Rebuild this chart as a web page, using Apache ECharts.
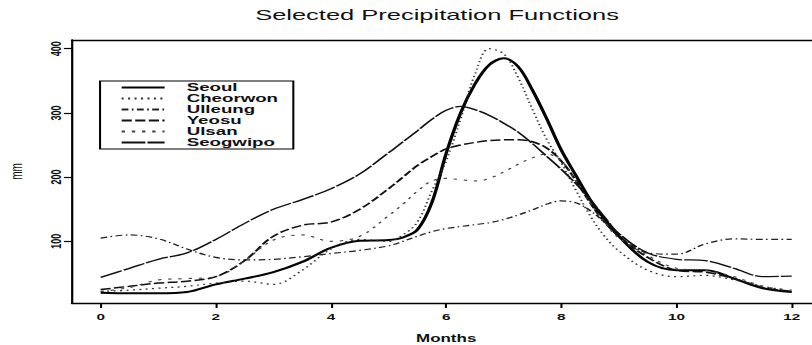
<!DOCTYPE html>
<html>
<head>
<meta charset="utf-8">
<script src="https://cdn.jsdelivr.net/npm/echarts@6/dist/echarts.min.js"></script>
<style>
  html, body { margin: 0; padding: 0; background: #fff; overflow: hidden; }
  #wrap { width: 812px; height: 345px; overflow: hidden; position: relative; }
  /* the figure is laid out narrow and widened horizontally as a whole */
  #chart { width: 478px; height: 345px; transform: scaleX(1.69874); transform-origin: 0 0; }
</style>
</head>
<body>
<div id="wrap"><div id="chart"></div></div>
<script>
// Monthly precipitation curves (mm) for six stations
const months = [0, 0.5, 1, 1.5, 2, 2.5, 3, 3.5, 4, 4.5, 5, 5.25, 5.5, 5.75, 6, 6.25, 6.5, 6.75, 7, 7.25, 7.5, 7.75, 8, 8.25, 8.5, 8.75, 9, 9.5, 10, 10.5, 11, 11.5, 12];

const seoul    = [20, 19, 19, 21, 33, 42, 52, 68, 90, 101, 102, 106, 118, 160, 237, 300, 345, 375, 385, 372, 335, 290, 242, 203, 165, 135, 108, 68, 55, 55, 42, 27, 21];
const cheorwon = [22, 24, 27, 30, 35, 38, 33, 55, 88, 103, 100, 110, 130, 178, 225, 290, 360, 400, 392, 355, 305, 258, 222, 180, 140, 108, 85, 55, 45, 47, 40, 30, 22];
const ulleung  = [105, 110, 104, 88, 75, 71, 72, 76, 81, 86, 93, 100, 108, 115, 120, 123, 126, 129, 134, 141, 149, 158, 163, 160, 148, 130, 112, 82, 80, 96, 104, 103, 103];
const yeosu    = [25, 30, 35, 38, 45, 70, 108, 125, 130, 150, 182, 200, 218, 232, 244, 250, 254, 257, 258, 258, 255, 245, 225, 195, 160, 130, 108, 75, 55, 52, 42, 28, 22];
const ulsan    = [22, 28, 40, 42, 45, 70, 102, 110, 100, 108, 140, 158, 178, 194, 198, 196, 194, 198, 208, 220, 230, 236, 225, 195, 160, 130, 105, 78, 58, 55, 45, 30, 24];
const seogwipo = [44, 58, 72, 82, 103, 128, 150, 165, 182, 205, 238, 255, 272, 290, 304, 310, 305, 296, 284, 270, 252, 232, 212, 190, 165, 138, 112, 82, 72, 70, 58, 45, 46];

const stationNames = ['Seoul', 'Cheorwon', 'Ulleung', 'Yeosu', 'Ulsan', 'Seogwipo'];
const xTicks = [0, 2, 4, 6, 8, 10, 12];
const yTicks = [100, 200, 300, 400];

const titleText = 'Selected Precipitation Functions';
const xName = 'Months';
const yName = 'mm';

const FONT = '"Liberation Sans", Arial, Helvetica, sans-serif';
const X_RANGE = { min: -0.5, max: 12.5 };
const Y_RANGE = { min: 4, max: 413.5 };
const frameLine = { show: true, onZero: false, lineStyle: { color: '#000', width: 1.3 } };

const values = [seoul, cheorwon, ulleung, yeosu, ulsan, seogwipo];
const styles = [
  { width: 2.0, type: 'solid', color: '#000' },
  { width: 1.2, type: [1.2, 2.6], color: '#333' },
  { width: 1.2, type: [4, 2, 1, 2], color: '#222' },
  { width: 1.5, type: [6, 2], color: '#111' },
  { width: 1.1, type: [2, 4], color: '#444' },
  { width: 1.3, type: [14, 1.2], color: '#111' }
];

const series = stationNames.map((name, k) => ({
  name: name,
  type: 'line',
  xAxisIndex: 0,
  yAxisIndex: 0,
  smooth: 0.35,
  symbol: 'none',
  showSymbol: false,
  legendIcon: 'none',
  lineStyle: styles[k],
  itemStyle: { color: styles[k].color },
  data: months.map((m, i) => [m, values[k][i]])
}));

const chart = echarts.init(document.getElementById('chart'), null, { renderer: 'svg' });

chart.setOption({
  animation: false,
  backgroundColor: '#fff',
  title: {
    text: titleText,
    left: 145.2,
    top: 2,
    textStyle: { fontFamily: FONT, fontSize: 15, fontWeight: 'normal', color: '#111' }
  },
  legend: {
    orient: 'vertical',
    left: 58.9,
    top: 81,
    padding: [1, 9, 1, 11.7],
    itemWidth: 25.3,
    itemHeight: 12,
    itemGap: 0,
    borderColor: '#000',
    borderWidth: 1.2,
    borderRadius: 0,
    itemStyle: { opacity: 0 },
    data: stationNames,
    textStyle: { fontFamily: FONT, fontSize: 11, fontWeight: 'bold', color: '#111', padding: [0, 0, 0, 8] }
  },
  grid: {
    left: 42.3,
    top: 40,
    width: 440.7,
    height: 263,
    containLabel: false,
    outerBoundsMode: 'none'
  },
  xAxis: [
    {
      type: 'value',
      position: 'bottom',
      min: X_RANGE.min,
      max: X_RANGE.max,
      name: xName,
      nameLocation: 'middle',
      nameGap: 30,
      nameTextStyle: { fontFamily: FONT, fontSize: 10, fontWeight: 'bold', color: '#111' },
      axisLine: frameLine,
      axisTick: { show: true, customValues: xTicks, length: 5, lineStyle: { color: '#000', width: 1.2 } },
      axisLabel: { customValues: xTicks, margin: 10, fontFamily: FONT, fontSize: 9, fontWeight: 'bold', color: '#111' },
      splitLine: { show: false }
    },
    {
      type: 'value',
      position: 'top',
      min: X_RANGE.min,
      max: X_RANGE.max,
      axisLine: frameLine,
      axisTick: { show: false },
      axisLabel: { show: false },
      splitLine: { show: false }
    }
  ],
  yAxis: [
    {
      type: 'value',
      position: 'left',
      min: Y_RANGE.min,
      max: Y_RANGE.max,
      name: yName,
      nameLocation: 'middle',
      nameRotate: 90,
      nameGap: 28,
      nameTextStyle: { fontFamily: FONT, fontSize: 10, color: '#111' },
      axisLine: frameLine,
      axisTick: { show: true, customValues: yTicks, length: 4.7, lineStyle: { color: '#000', width: 1.2 } },
      axisLabel: { customValues: yTicks, rotate: 90, margin: 4.5, fontFamily: FONT, fontSize: 9, fontWeight: 'bold', color: '#111' },
      splitLine: { show: false }
    },
    {
      type: 'value',
      position: 'right',
      min: Y_RANGE.min,
      max: Y_RANGE.max,
      axisLine: frameLine,
      axisTick: { show: false },
      axisLabel: { show: false },
      splitLine: { show: false }
    }
  ],
  series: series
});
</script>
</body>
</html>
